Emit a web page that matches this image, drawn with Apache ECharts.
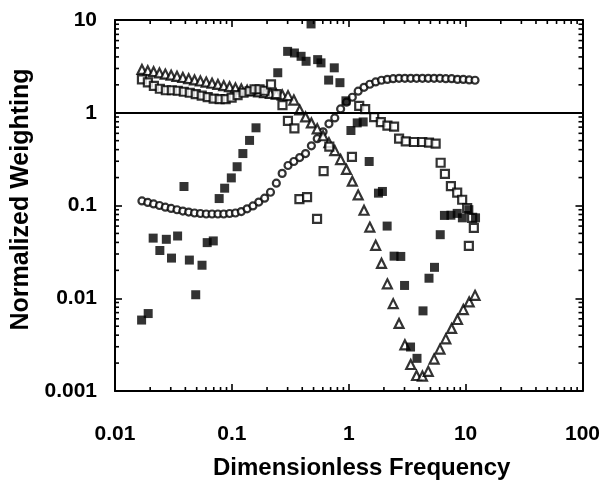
<!DOCTYPE html>
<html>
<head>
<meta charset="utf-8">
<script src="https://cdn.jsdelivr.net/npm/echarts@6/dist/echarts.min.js"></script>
<style>
html,body{margin:0;padding:0;background:#fff;}
#chart{width:603px;height:485px;}
</style>
</head>
<body>
<div id="chart"></div>
<script>
// Frequency grid shared by the circle and triangle series
const freq = [0.0170,0.01907,0.02140,0.02401,0.02694,0.03023,0.03392,0.03806,0.04270,0.04791,
  0.05376,0.06032,0.06768,0.07594,0.08521,0.0956,0.1073,0.1204,0.1351,0.1515,
  0.170,0.1907,0.2140,0.2401,0.2694,0.3023,0.3392,0.3806,0.4270,0.4791,
  0.5376,0.6032,0.6768,0.7594,0.8521,0.956,1.073,1.204,1.351,1.515,
  1.70,1.907,2.140,2.401,2.694,3.023,3.392,3.806,4.270,4.791,
  5.376,6.032,6.768,7.594,8.521,9.56,10.73,12.04];

const circleW = [0.112,0.108,0.104,0.100,0.096,0.093,0.090,0.087,0.085,0.083,
  0.082,0.081,0.081,0.081,0.081,0.082,0.083,0.086,0.092,0.099,
  0.109,0.120,0.139,0.174,0.222,0.270,0.298,0.329,0.363,0.44,
  0.525,0.623,0.759,0.879,1.10,1.30,1.47,1.71,1.88,2.03,
  2.15,2.24,2.29,2.33,2.35,2.35,2.35,2.35,2.35,2.35,
  2.35,2.35,2.33,2.33,2.29,2.29,2.26,2.24];

const triangleW = [2.93,2.84,2.77,2.69,2.61,2.54,2.47,2.40,2.33,2.26,
  2.20,2.14,2.08,2.02,1.96,1.91,1.85,1.80,1.75,1.72,
  1.68,1.65,1.62,1.59,1.56,1.53,1.37,1.07,0.901,0.777,
  0.671,0.565,0.476,0.391,0.313,0.245,0.183,0.130,0.0889,0.0585,
  0.0372,0.0238,0.0143,0.00875,0.00535,0.00315,0.00193,0.00147,0.00145,0.00163,
  0.00221,0.00283,0.00365,0.00473,0.0059,0.00755,0.00912,0.01075];

const filledX = [0.01689,0.01923,0.02121,0.02420,0.02749,0.03045,0.03433,0.03893,0.04328,0.04906,
  0.05554,0.06150,0.06933,0.07786,0.08675,0.09892,0.1109,0.1242,0.1417,0.1609,
  0.247,0.300,0.343,0.391,0.4315,0.476,0.542,0.579,0.673,0.752,
  0.841,0.946,1.044,1.182,1.329,1.496,1.796,1.942,2.131,2.444,
  2.788,3.003,3.379,3.838,4.320,4.861,5.415,6.066,6.590,7.485,
  8.472,9.382,10.66,12.16];
const filledY = [0.00582,0.00684,0.0445,0.0327,0.0432,0.0271,0.0469,0.1603,0.0258,0.01091,
  0.0227,0.0398,0.0415,0.1188,0.1537,0.1984,0.2618,0.3631,0.5032,0.688,
  2.70,4.59,4.41,4.06,3.59,9.07,3.74,3.45,2.25,3.05,
  2.11,1.345,0.6436,0.7774,0.7962,0.2983,0.1359,0.1417,0.0600,0.02844,
  0.02823,0.01374,0.00298,0.00225,0.00731,0.01644,0.02154,0.04845,0.0782,0.0786,
  0.0822,0.0736,0.0902,0.0736];

const openX = [0.01700,0.01911,0.02151,0.02420,0.02723,0.03063,0.03446,0.03878,0.04363,0.04906,
  0.05521,0.06212,0.06988,0.07862,0.08846,0.09952,0.1119,0.1259,0.1417,0.1563,
  0.1725,0.1902,0.2162,0.2408,0.2710,0.3018,0.3429,0.3783,0.4400,0.5357,
  0.6096,0.6819,1.065,1.229,1.382,1.650,1.882,2.143,2.444,2.696,
  3.075,3.619,4.260,4.861,5.541,6.115,6.653,7.485,8.472,9.346,
  10.31,11.37,11.76,10.66];
const openY = [2.291,2.128,1.953,1.814,1.749,1.749,1.727,1.685,1.644,1.585,
  1.528,1.472,1.419,1.402,1.402,1.454,1.546,1.644,1.706,1.792,
  1.792,1.727,2.026,1.585,1.21,0.817,0.679,0.1173,0.1232,0.0718,
  0.235,0.431,0.3347,1.189,1.096,0.895,0.791,0.728,0.710,0.525,
  0.491,0.484,0.484,0.4755,0.4642,0.289,0.2195,0.1614,0.1376,0.1153,
  0.0940,0.0736,0.0575,0.0367];

const xTicks = [0.01, 0.1, 1, 10, 100];
const xTickLabels = ['0.01', '0.1', '1', '10', '100'];
const yTicks = [0.001, 0.01, 0.1, 1, 10];
const yTickLabels = ['0.001', '0.01', '0.1', '1', '10'];
const refLevel = 1;

const xMin = xTicks[0], xMax = xTicks[xTicks.length - 1];
const yMin = yTicks[0], yMax = yTicks[yTicks.length - 1];

// minor tick values (2..9 within each decade) for the log axes
function minorOf(ticks) {
  const out = [];
  for (let i = 0; i < ticks.length - 1; i++) {
    for (let m = 2; m <= 9; m++) out.push(ticks[i] * m);
  }
  return out;
}
const xMinor = minorOf(xTicks);
const yMinor = minorOf(yTicks);

const FONT = "'Liberation Sans', Arial, sans-serif";
const pair = (xs, ys) => xs.map((x, i) => [x, ys[i]]);

function axisCommon(show) {
  return {
    type: 'log', logBase: 10,
    axisLine: { show: true, onZero: false, lineStyle: { color: '#000', width: 2 } },
    axisTick: { show: true, inside: true, length: 7, lineStyle: { color: '#000', width: 1.6 } },
    splitLine: { show: false },
    minorTick: { show: false },
    axisLabel: { show: show }
  };
}

const tickData = [];
xMinor.forEach(v => { tickData.push([v, 'b']); tickData.push([v, 't']); });
yMinor.forEach(v => { tickData.push([v, 'l']); tickData.push([v, 'r']); });

function labelFor(ticks, labels) {
  return v => {
    const i = ticks.findIndex(t => Math.abs(Math.log10(t) - Math.log10(v)) < 1e-6);
    return i >= 0 ? labels[i] : '';
  };
}

const chart = echarts.init(document.getElementById('chart'), null, { renderer: 'canvas' });
chart.setOption({
  backgroundColor: '#fff',
  animation: false,
  grid: { left: 115, right: 19, top: 20, bottom: 90 },
  xAxis: [
    Object.assign(axisCommon(true), {
      min: xMin, max: xMax, position: 'bottom',
      axisLabel: { show: true, margin: 33, color: '#000', fontSize: 21, fontWeight: 'bold', fontFamily: FONT,
        formatter: labelFor(xTicks, xTickLabels) },
      name: 'Dimensionless Frequency', nameLocation: 'middle', nameGap: 65,
      nameTextStyle: { color: '#000', fontSize: 24, fontWeight: 'bold', fontFamily: FONT, padding: [0, 0, 0, 26] }
    }),
    Object.assign(axisCommon(false), { min: xMin, max: xMax, position: 'top' })
  ],
  yAxis: [
    Object.assign(axisCommon(true), {
      min: yMin, max: yMax, position: 'left',
      axisLabel: { show: true, margin: 18, color: '#000', fontSize: 21, fontWeight: 'bold', fontFamily: FONT,
        formatter: labelFor(yTicks, yTickLabels) },
      name: 'Normalized Weighting', nameLocation: 'middle', nameGap: 78, nameRotate: 90,
      nameTextStyle: { color: '#000', fontSize: 25, fontWeight: 'bold', fontFamily: FONT, padding: [0, 0, 0, 12] }
    }),
    Object.assign(axisCommon(false), { min: yMin, max: yMax, position: 'right' })
  ],
  series: [
    {
      type: 'custom', xAxisIndex: 0, yAxisIndex: 0, silent: true, clip: false, z: 5,
      data: tickData.map(d => d[1] === 'b' || d[1] === 't' ? [d[0], yMin] : [xMin, d[0]]),
      encode: { x: 0, y: 1 },
      renderItem: function (params, api) {
        const v0 = api.value(0), v1 = api.value(1);
        const side = tickData[params.dataIndex][1];
        const L = 4;
        let p, q;
        if (side === 'b') { p = api.coord([v0, yMin]); q = [p[0], p[1] - L]; }
        else if (side === 't') { p = api.coord([v0, yMax]); q = [p[0], p[1] + L]; }
        else if (side === 'l') { p = api.coord([xMin, v1]); q = [p[0] + L, p[1]]; }
        else { p = api.coord([xMax, v1]); q = [p[0] - L, p[1]]; }
        return { type: 'line', shape: { x1: p[0], y1: p[1], x2: q[0], y2: q[1] },
          style: { stroke: '#000', lineWidth: 1.6 } };
      }
    },
    {
      name: 'circles', type: 'scatter', symbol: 'circle', symbolSize: 7,
      data: pair(freq, circleW),
      itemStyle: { color: '#fff', borderColor: '#000', borderWidth: 2.2 },
      markLine: {
        silent: true, symbol: ['none', 'none'], label: { show: false },
        lineStyle: { color: '#000', width: 2, type: 'solid' },
        data: [{ yAxis: refLevel }]
      }
    },
    {
      name: 'triangles', type: 'scatter', symbol: 'triangle', symbolSize: 9,
      data: pair(freq, triangleW),
      itemStyle: { color: '#fff', borderColor: '#000', borderWidth: 2.2 }
    },
    {
      name: 'open squares', type: 'scatter', symbol: 'rect', symbolSize: 8,
      data: pair(openX, openY),
      itemStyle: { color: '#fff', borderColor: '#000', borderWidth: 2.2 }
    },
    {
      name: 'filled squares', type: 'scatter', symbol: 'rect', symbolSize: 9,
      data: pair(filledX, filledY),
      itemStyle: { color: '#000', borderColor: '#000', borderWidth: 0 }
    }
  ]
});
</script>
</body>
</html>
